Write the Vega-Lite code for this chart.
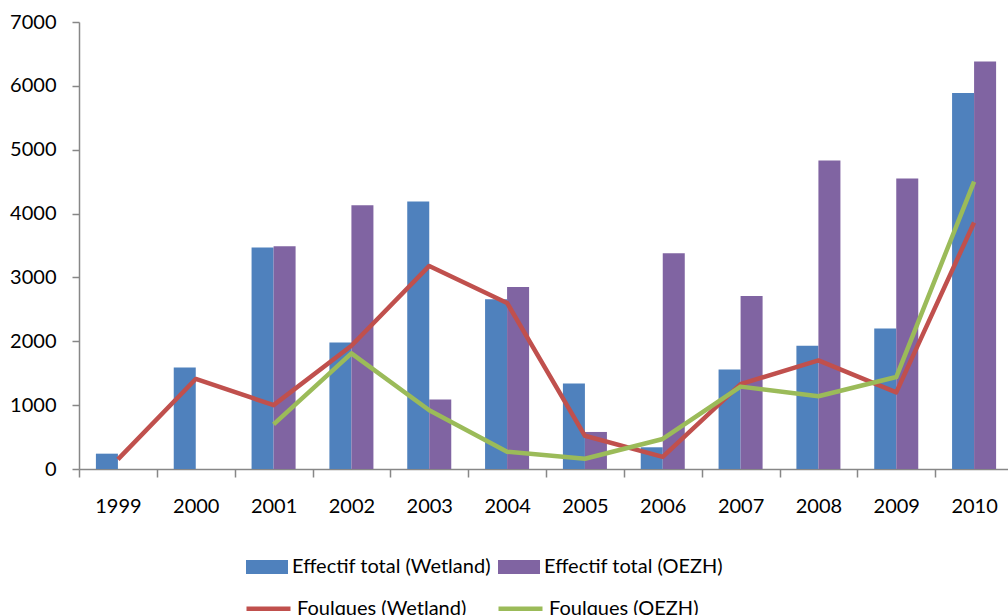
{
  "$schema": "https://vega.github.io/schema/vega-lite/v6.json",
  "width": 934,
  "height": 447,
  "autosize": {"type": "none"},
  "padding": {"left": 79, "top": 22, "right": 0, "bottom": 146},
  "background": "white",
  "config": {
    "view": {"stroke": null},
    "font": "Lato",
    "axis": {
      "labelFont": "Lato",
      "labelFontSize": 20,
      "labelColor": "#000000",
      "domainColor": "#878787",
      "domainWidth": 1.5,
      "tickColor": "#878787",
      "tickWidth": 1.5,
      "grid": false,
      "title": null
    }
  },
  "datasets": {
    "bars": [
      {"year": "1999", "series": "Effectif total (Wetland)", "value": 240},
      {"year": "2000", "series": "Effectif total (Wetland)", "value": 1590},
      {"year": "2001", "series": "Effectif total (Wetland)", "value": 3470},
      {"year": "2002", "series": "Effectif total (Wetland)", "value": 1980},
      {"year": "2003", "series": "Effectif total (Wetland)", "value": 4190},
      {"year": "2004", "series": "Effectif total (Wetland)", "value": 2660},
      {"year": "2005", "series": "Effectif total (Wetland)", "value": 1340},
      {"year": "2006", "series": "Effectif total (Wetland)", "value": 340},
      {"year": "2007", "series": "Effectif total (Wetland)", "value": 1560},
      {"year": "2008", "series": "Effectif total (Wetland)", "value": 1930},
      {"year": "2009", "series": "Effectif total (Wetland)", "value": 2200},
      {"year": "2010", "series": "Effectif total (Wetland)", "value": 5890},
      {"year": "2001", "series": "Effectif total (OEZH)", "value": 3490},
      {"year": "2002", "series": "Effectif total (OEZH)", "value": 4130},
      {"year": "2003", "series": "Effectif total (OEZH)", "value": 1090},
      {"year": "2004", "series": "Effectif total (OEZH)", "value": 2850},
      {"year": "2005", "series": "Effectif total (OEZH)", "value": 580},
      {"year": "2006", "series": "Effectif total (OEZH)", "value": 3380},
      {"year": "2007", "series": "Effectif total (OEZH)", "value": 2710},
      {"year": "2008", "series": "Effectif total (OEZH)", "value": 4830},
      {"year": "2009", "series": "Effectif total (OEZH)", "value": 4550},
      {"year": "2010", "series": "Effectif total (OEZH)", "value": 6380}
    ],
    "lines": [
      {"year": "1999", "series": "Foulques (Wetland)", "value": 150},
      {"year": "2000", "series": "Foulques (Wetland)", "value": 1410},
      {"year": "2001", "series": "Foulques (Wetland)", "value": 1000},
      {"year": "2002", "series": "Foulques (Wetland)", "value": 1930},
      {"year": "2003", "series": "Foulques (Wetland)", "value": 3180},
      {"year": "2004", "series": "Foulques (Wetland)", "value": 2600},
      {"year": "2005", "series": "Foulques (Wetland)", "value": 520},
      {"year": "2006", "series": "Foulques (Wetland)", "value": 190},
      {"year": "2007", "series": "Foulques (Wetland)", "value": 1330},
      {"year": "2008", "series": "Foulques (Wetland)", "value": 1700},
      {"year": "2009", "series": "Foulques (Wetland)", "value": 1200},
      {"year": "2010", "series": "Foulques (Wetland)", "value": 3860},
      {"year": "2001", "series": "Foulques (OEZH)", "value": 700},
      {"year": "2002", "series": "Foulques (OEZH)", "value": 1810},
      {"year": "2003", "series": "Foulques (OEZH)", "value": 920},
      {"year": "2004", "series": "Foulques (OEZH)", "value": 270},
      {"year": "2005", "series": "Foulques (OEZH)", "value": 160},
      {"year": "2006", "series": "Foulques (OEZH)", "value": 470},
      {"year": "2007", "series": "Foulques (OEZH)", "value": 1290},
      {"year": "2008", "series": "Foulques (OEZH)", "value": 1140},
      {"year": "2009", "series": "Foulques (OEZH)", "value": 1440},
      {"year": "2010", "series": "Foulques (OEZH)", "value": 4500}
    ]
  },
  "layer": [
    {
      "data": {"name": "bars"},
      "mark": {"type": "bar"},
      "encoding": {
        "x": {
          "field": "year",
          "type": "ordinal",
          "scale": {
            "domain": ["1999","2000","2001","2002","2003","2004","2005","2006","2007","2008","2009","2010"],
            "paddingInner": 0,
            "paddingOuter": 0
          },
          "axis": {
            "labelAngle": 0,
            "tickBand": "extent",
            "tickSize": 8,
            "labelPadding": 19
          }
        },
        "xOffset": {
          "field": "series",
          "type": "nominal",
          "scale": {
            "domain": ["Effectif total (Wetland)", "Effectif total (OEZH)"],
            "paddingInner": 0,
            "paddingOuter": 0.768
          }
        },
        "y": {
          "field": "value",
          "type": "quantitative",
          "scale": {"domain": [0, 7000], "nice": false},
          "axis": {
            "values": [0,1000,2000,3000,4000,5000,6000,7000],
            "format": "d",
            "tickSize": 7,
            "labelPadding": 16
          }
        },
        "fill": {
          "field": "series",
          "type": "nominal",
          "scale": {
            "domain": ["Effectif total (Wetland)", "Effectif total (OEZH)"],
            "range": ["#4F81BD", "#8064A2"]
          },
          "legend": {
            "title": null,
            "orient": "none",
            "legendX": 167,
            "legendY": 524,
            "direction": "horizontal",
            "columns": 2,
            "columnPadding": 7,
            "symbolType": "M-1,-0.333H1V0.333H-1Z",
            "symbolSize": 1764,
            "symbolStrokeWidth": 0,
            "symbolOpacity": 1,
            "labelFont": "Lato",
            "labelFontSize": 20,
            "labelColor": "#000000",
            "labelOffset": 4,
            "labelLimit": 400,
            "padding": 0
          }
        }
      }
    },
    {
      "data": {"name": "lines"},
      "mark": {"type": "line", "strokeWidth": 4.5, "strokeJoin": "round"},
      "encoding": {
        "x": {"field": "year", "type": "ordinal"},
        "y": {"field": "value", "type": "quantitative"},
        "stroke": {
          "field": "series",
          "type": "nominal",
          "scale": {
            "domain": ["Foulques (Wetland)", "Foulques (OEZH)"],
            "range": ["#C0504D", "#9BBB59"]
          },
          "legend": {
            "title": null,
            "orient": "none",
            "legendX": 165,
            "legendY": 562,
            "direction": "horizontal",
            "columns": 2,
            "columnPadding": 22,
            "symbolType": "stroke",
            "symbolSize": 1936,
            "symbolStrokeWidth": 4.5,
            "labelFont": "Lato",
            "labelFontSize": 20,
            "labelColor": "#000000",
            "labelOffset": 4,
            "labelLimit": 400,
            "padding": 0
          }
        }
      }
    }
  ]
}
